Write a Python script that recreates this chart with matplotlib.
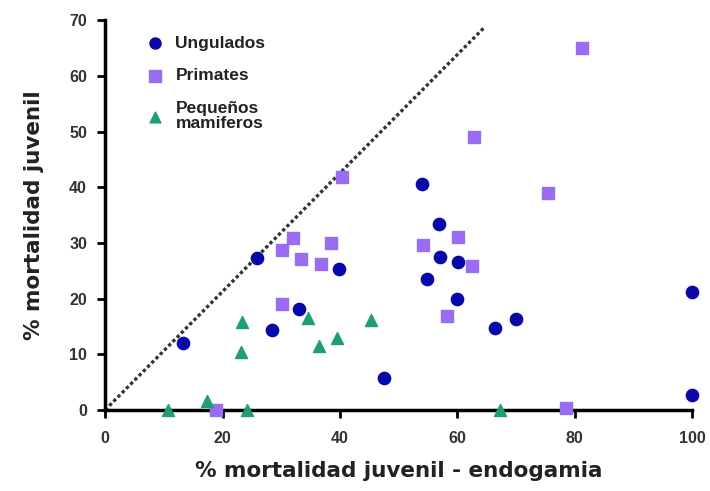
import numpy as np
import matplotlib
matplotlib.use("Agg")
from matplotlib import pyplot as plt

# datos
ung_x = [13.3, 25.9, 28.4, 33.0, 39.9, 47.5, 54.0, 54.9, 56.9, 57.1, 60.0, 60.1, 66.4, 70.0, 100, 100]
ung_y = [12.0, 27.3, 14.4, 18.1, 25.3, 5.7, 40.6, 23.5, 33.4, 27.5, 19.9, 26.6, 14.7, 16.3, 21.2, 2.7]

pri_x = [18.9, 30.2, 30.2, 32.0, 33.4, 36.8, 38.5, 40.4, 54.2, 60.1, 58.3, 62.5, 62.9, 75.5, 81.3, 78.5]
pri_y = [0.0, 19.0, 28.7, 30.9, 27.1, 26.2, 30.0, 41.8, 29.6, 31.1, 16.9, 25.9, 49.0, 39.0, 65.0, 0.4]

peq_x = [10.7, 17.4, 24.2, 23.3, 23.2, 34.6, 36.5, 39.5, 45.3, 67.3]
peq_y = [0.0, 1.6, 0.0, 15.8, 10.4, 16.5, 11.5, 12.9, 16.2, 0.0]

diag_x = [0, 64.5]
diag_y = [0, 68.6]

xticks = [0, 20, 40, 60, 80, 100]
yticks = [0, 10, 20, 30, 40, 50, 60, 70]

plt.rcParams['font.family'] = ['Liberation Sans', 'DejaVu Sans']

fig = plt.figure(figsize=(7.10, 4.91), dpi=100)
ax = fig.add_axes([0.148, 0.165, 0.827, 0.794])

ax.plot(diag_x, diag_y, color='#333333', linestyle=(0, (1, 0.8)), linewidth=2.4, zorder=1)

ax.scatter(ung_x, ung_y, marker='o', s=78, color='#0808a8', label='Ungulados', zorder=3, clip_on=False)
ax.scatter(pri_x, pri_y, marker='s', s=80, color='#9a6cf2', label='Primates', zorder=3, clip_on=False)
ax.scatter(peq_x, peq_y, marker='^', s=75, color='#1f9e72', label='Pequeños\nmamiferos', zorder=3, clip_on=False)

ax.set_xlim(0, 100)
ax.set_ylim(0, 70)
ax.set_xticks(xticks)
ax.set_yticks(yticks)

for s in ['top', 'right']:
    ax.spines[s].set_visible(False)
for s in ['left', 'bottom']:
    ax.spines[s].set_linewidth(2.5)
    ax.spines[s].set_color('black')

ax.tick_params(axis='both', direction='out', length=6, width=2, labelsize=11.5,
               colors='black', labelcolor='#333333')
for lab in ax.get_xticklabels() + ax.get_yticklabels():
    lab.set_fontweight('bold')
ax.tick_params(axis='x', pad=9)
ax.tick_params(axis='y', pad=7)

ax.set_xlabel('% mortalidad juvenil - endogamia', fontsize=15.5, fontweight='bold',
              color='#222222', labelpad=11, family='DejaVu Sans')
ax.set_ylabel('% mortalidad juvenil', fontsize=15.5, fontweight='bold',
              color='#222222', labelpad=18, family='DejaVu Sans')

leg = ax.legend(loc='upper left', bbox_to_anchor=(0.04, 1.0), frameon=False,
                fontsize=12.5, handletextpad=0.5, labelspacing=1.0, scatterpoints=1,
                markerscale=0.9, handlelength=1.3)
for t in leg.get_texts():
    t.set_fontweight('bold')
    t.set_color('#222222')
    t.set_linespacing(1.0)

fig.savefig('out.png', dpi=100)
